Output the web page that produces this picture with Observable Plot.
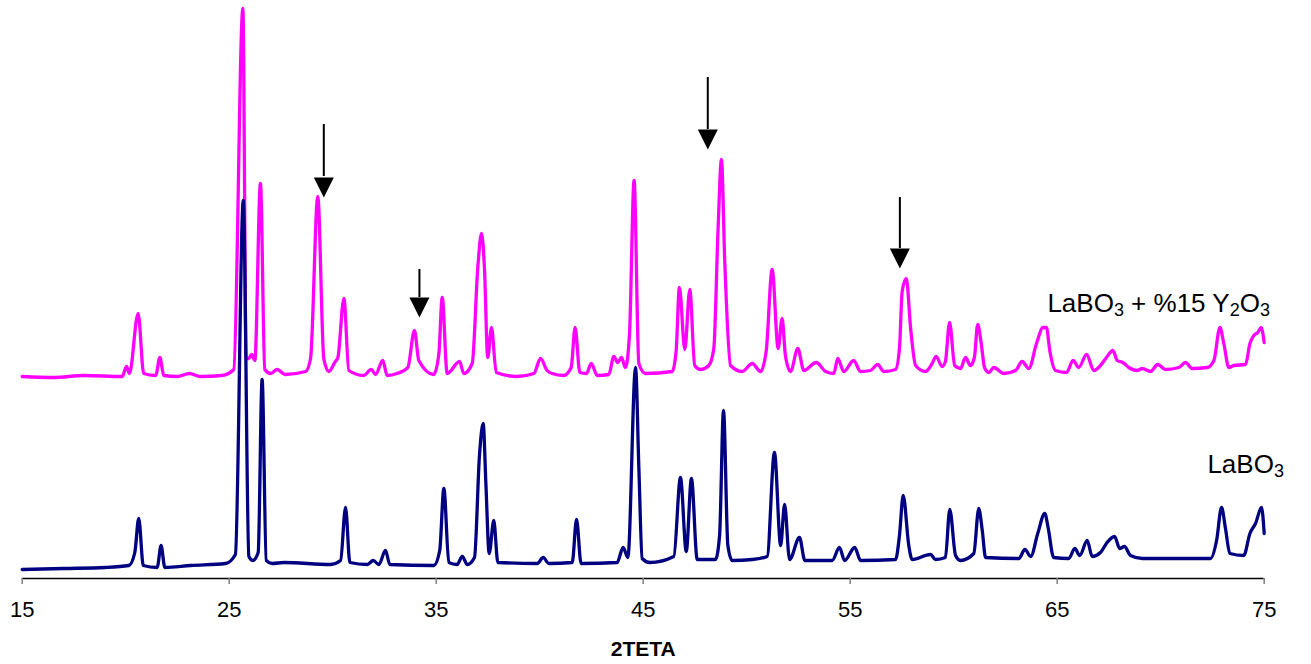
<!DOCTYPE html>
<html>
<head>
<meta charset="utf-8">
<script src="https://cdn.jsdelivr.net/npm/d3@7"></script>
<script src="https://cdn.jsdelivr.net/npm/@observablehq/plot@0.6"></script>
<style>
  html, body { margin: 0; padding: 0; background: #fff; overflow: hidden; }
  #chart svg { display: block; }
</style>
</head>
<body>
<div id="chart"></div>
<script>
// X-ray diffraction patterns: [2θ (degrees), intensity (a.u.)]
// Pure LaBO3
const labPattern = [
  [15.00, 9], [17.00, 10], [19.00, 11], [20.15, 13], [20.44, 26], [20.63, 60], [20.85, 13],
  [21.52, 11], [21.71, 33], [21.89, 11], [23.13, 13], [24.82, 15], [25.30, 24], [25.68, 378],
  [25.95, 22], [26.14, 18], [26.40, 26], [26.59, 199], [26.79, 18], [27.08, 15], [27.64, 16],
  [29.89, 14], [30.38, 18], [30.62, 71], [30.83, 16], [31.67, 14], [31.96, 18], [32.23, 14],
  [32.55, 28], [32.76, 14], [34.88, 13], [35.17, 28], [35.37, 90], [35.61, 16], [36.01, 14],
  [36.26, 22], [36.50, 14], [36.85, 21], [37.09, 123], [37.27, 155], [37.40, 95], [37.56, 25],
  [37.78, 58], [37.98, 16], [39.88, 15], [40.17, 21], [40.44, 15], [41.57, 16], [41.78, 59],
  [42.00, 15], [43.74, 16], [44.03, 31], [44.26, 21], [44.63, 211], [44.79, 111], [44.95, 20],
  [45.32, 16], [46.48, 22], [46.80, 101], [47.08, 27], [47.33, 100], [47.61, 19], [48.49, 19],
  [48.69, 43], [48.88, 168], [49.09, 33], [49.30, 18], [50.27, 19], [50.99, 22], [51.34, 126],
  [51.64, 33], [51.83, 74], [52.07, 19], [52.55, 41], [52.81, 18], [54.13, 18], [54.48, 31],
  [54.73, 18], [55.22, 31], [55.50, 18], [57.19, 19], [57.38, 43], [57.56, 83], [57.83, 33],
  [57.99, 19], [58.88, 24], [59.12, 19], [59.60, 21], [59.81, 69], [60.09, 23], [60.33, 18],
  [60.97, 25], [61.21, 70], [61.38, 48], [61.54, 21], [63.15, 20], [63.44, 29], [63.72, 22],
  [64.06, 45], [64.40, 65], [64.56, 51], [64.83, 21], [65.56, 20], [65.85, 30], [66.09, 23],
  [66.45, 38], [66.69, 22], [67.09, 26], [67.41, 36], [67.77, 42], [68.02, 30], [68.25, 32],
  [68.54, 23], [69.11, 20], [72.41, 20], [72.70, 38], [72.94, 71], [73.13, 50], [73.34, 25],
  [74.01, 23], [74.31, 45], [74.58, 55], [74.87, 71], [75.00, 45]
];

// LaBO3 + 15% Y2O3 (stacked above the pure pattern)
const mixPattern = [
  [15.00, 202], [16.50, 201], [18.00, 203], [19.83, 202], [20.04, 212], [20.18, 205], [20.60, 265],
  [20.87, 205], [21.45, 203], [21.65, 221], [21.84, 203], [22.50, 202], [23.08, 205], [23.60, 202],
  [24.66, 203], [25.22, 209], [25.66, 570], [25.82, 220], [25.95, 220], [26.08, 224], [26.24, 218],
  [26.51, 395], [26.72, 209], [27.00, 205], [27.32, 209], [27.70, 204], [28.69, 207], [28.93, 220],
  [29.28, 382], [29.57, 220], [29.81, 207], [30.10, 216], [30.25, 221], [30.54, 280], [30.78, 208],
  [31.50, 203], [31.86, 209], [32.07, 204], [32.42, 218], [32.63, 203], [33.11, 205], [33.63, 211],
  [33.95, 248], [34.16, 218], [34.88, 204], [35.13, 225], [35.29, 281], [35.53, 205], [36.13, 217],
  [36.33, 205], [36.74, 215], [37.01, 311], [37.19, 345], [37.33, 311], [37.49, 221], [37.67, 251],
  [37.90, 206], [38.91, 202], [39.72, 205], [40.04, 220], [40.36, 208], [40.60, 205], [41.16, 203],
  [41.52, 211], [41.71, 251], [41.94, 206], [42.26, 205], [42.49, 215], [42.78, 203], [43.34, 204],
  [43.58, 222], [43.77, 216], [43.95, 221], [44.14, 211], [44.34, 245], [44.56, 398], [44.79, 215],
  [45.11, 205], [46.40, 207], [46.59, 227], [46.75, 291], [47.01, 229], [47.25, 289], [47.49, 213],
  [47.77, 209], [48.17, 213], [48.41, 230], [48.62, 351], [48.78, 419], [48.94, 317], [49.22, 213],
  [49.78, 207], [50.27, 215], [50.67, 207], [50.94, 227], [51.23, 309], [51.52, 230], [51.71, 260],
  [51.87, 223], [52.12, 207], [52.47, 230], [52.76, 208], [53.36, 216], [53.81, 207], [54.21, 205],
  [54.40, 220], [54.69, 207], [55.17, 218], [55.50, 207], [55.98, 208], [56.33, 214], [56.62, 207],
  [57.19, 209], [57.38, 230], [57.51, 287], [57.71, 300], [57.92, 250], [58.16, 213], [58.64, 207],
  [58.96, 215], [59.15, 222], [59.44, 212], [59.60, 217], [59.80, 256], [60.05, 213], [60.33, 210],
  [60.57, 221], [60.81, 213], [61.00, 221], [61.16, 254], [61.33, 235], [61.49, 211], [61.70, 206],
  [61.94, 211], [62.42, 205], [62.99, 208], [63.31, 217], [63.63, 210], [64.00, 235], [64.32, 251],
  [64.48, 251], [64.64, 228], [64.92, 208], [65.45, 206], [65.77, 218], [66.04, 211], [66.42, 224],
  [66.77, 208], [67.09, 213], [67.38, 221], [67.69, 228], [67.90, 218], [68.17, 216], [68.46, 211],
  [68.86, 208], [69.11, 210], [69.51, 207], [69.86, 214], [70.23, 209], [70.87, 211], [71.20, 216],
  [71.52, 210], [72.25, 211], [72.57, 218], [72.86, 251], [73.05, 235], [73.29, 211], [73.53, 213],
  [74.10, 214], [74.31, 235], [74.50, 243], [74.69, 246], [74.85, 251], [75.00, 236]
];

// x-axis ticks (2θ)
const xTicks = [15, 25, 35, 45, 55, 65, 75];

// Arrows marking the new reflections: position, shaft top, head top, tip
const arrowTheta = [29.57, 34.19, 48.12, 57.40];
const arrowTop = [454, 309, 501, 381];
const arrowHeadTop = [402, 281, 449, 330];
const arrowTip = [381, 261, 429, 310];

// Series labels: anchor (start of text) and pieces, subscripts flagged
const labelTheta = [72.28, 64.55];
const labelIntensity = [105.5, 265.7];
const labelParts = [
  [["LaBO", false], ["3", true]],
  [["LaBO", false], ["3", true], [" + %15 Y", false], ["2", true], ["O", false], ["3", true]]
];

const FONT = "Arial, 'Liberation Sans', sans-serif";

const arrows = arrowTheta.map((theta, i) => ({
  theta, top: arrowTop[i], headTop: arrowHeadTop[i], tip: arrowTip[i]
}));

// Filled arrow head pointing down, with its tip at the anchor point
const downTriangle = {
  draw(context, size) {
    const r = Math.sqrt(size / Math.PI);
    context.moveTo(0, 0);
    context.lineTo(-r, -2 * r);
    context.lineTo(r, -2 * r);
    context.closePath();
  }
};

const chart = Plot.plot({
  width: 1311,
  height: 664,
  marginLeft: 21.7,
  marginRight: 47.3,
  marginTop: 0,
  marginBottom: 86,
  style: { fontFamily: FONT, background: "#fff", color: "#000", overflow: "visible" },
  x: { domain: [15, 75] },
  y: { domain: [0, 578], axis: null },
  marks: [
    Plot.line(mixPattern, {
      x: d => d[0], y: d => d[1], curve: "monotone-x",
      stroke: "#FF00FF", strokeWidth: 3.3, strokeLinejoin: "round", strokeLinecap: "round"
    }),
    Plot.line(labPattern, {
      x: d => d[0], y: d => d[1], curve: "monotone-x",
      stroke: "#000080", strokeWidth: 3.3, strokeLinejoin: "round", strokeLinecap: "round"
    }),
    Plot.ruleX(arrows, { x: "theta", y1: "top", y2: "headTop", stroke: "#000", strokeWidth: 2 }),
    Plot.dot(arrows, { x: "theta", y: "tip", symbol: downTriangle, r: 10, fill: "#000", stroke: "none" }),
    Plot.ruleY([0], { stroke: "#000", strokeWidth: 1.3 }),
    Plot.axisX({
      ticks: xTicks, tickSize: 6, tickPadding: 17, fontSize: 22,
      stroke: "#808080", strokeWidth: 1.5, fill: "#000", label: null
    }),
    Plot.text(["2TETA"], {
      frameAnchor: "bottom", dy: 77, lineAnchor: "bottom",
      fontWeight: "bold", fontSize: 21, fill: "#000"
    })
  ]
});

document.getElementById("chart").appendChild(chart);

// Series labels with chemical subscripts, placed through the plot's scales
const sx = chart.scale("x"), sy = chart.scale("y");
const labels = d3.select(chart).append("g")
  .attr("font-family", FONT)
  .attr("font-size", 26)
  .attr("text-anchor", "start")
  .attr("fill", "#000");
labelParts.forEach((parts, i) => {
  const t = labels.append("text")
    .attr("x", sx.apply(labelTheta[i]))
    .attr("y", sy.apply(labelIntensity[i]))
    .style("white-space", "pre");
  let shifted = false;
  for (const [str, sub] of parts) {
    const span = t.append("tspan").text(str);
    if (sub && !shifted) { span.attr("dy", 4).attr("font-size", 18); shifted = true; }
    else if (sub) { span.attr("font-size", 18); }
    else if (shifted) { span.attr("dy", -4); shifted = false; }
  }
});
</script>
</body>
</html>
